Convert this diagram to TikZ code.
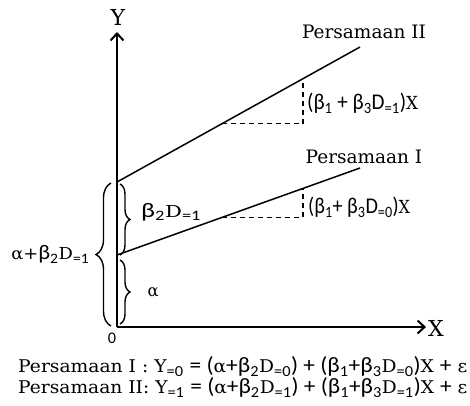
\documentclass[tikz,border=0pt]{standalone}
\usepackage{graphicx}
\usepackage{fontspec}
\setmainfont{DejaVu Serif}
\newfontfamily\cf{Carlito}[Scale=1.25]
\usetikzlibrary{decorations.pathreplacing,arrows.meta,calc}
\newcommand\s[1]{{\cf #1}}
\newcommand\sbs[1]{\textsubscript{\cf #1}}
\newcommand\fs[1]{\fontsize{#1}{#1}\selectfont}
\newcommand\fitw[2]{\resizebox{#1}{\height}{#2}}
\begin{document}
\begin{tikzpicture}[x=1pt,y=-1pt,
  axis/.style={line width=2pt,-{Straight Barb[length=7pt,width=13pt,line width=2pt]}},
  regline/.style={line width=1.5pt},
  dashline/.style={line width=1.4pt,dash pattern=on 5pt off 4pt},
  brc/.style={line width=1.4pt,decorate},
  lbl/.style={inner sep=0pt},
  eqn/.style={inner sep=0pt,anchor=west},
  axlab/.style={inner sep=0pt,font=\fs{22}},
  ptitle/.style={inner sep=0pt,font=\fs{18.5}}]
\useasboundingbox (0,0) rectangle (470,405);
% axes
\coordinate (O) at (117,327);
\coordinate (Ytop) at (117,32);
\coordinate (Xend) at (426,327);
\draw[axis] (O) -- (Ytop);
\draw[axis] (O) -- (Xend);
\node[axlab] (ylab) at (118,17) {Y};
\node[axlab] (xlab) at (436,328) {X};
\node[inner sep=0pt,font=\fs{13}] (zero) at (112,338) {\s{0}};
% regression lines
\coordinate (A2) at (117,182); \coordinate (B2) at (360,47);
\coordinate (A1) at (117,255); \coordinate (B1) at (360,168);
\draw[regline] (A2) -- (B2);
\draw[regline] (A1) -- (B1);
\node[ptitle] (t2) at (364,32) {Persamaan II};
\node[ptitle] (t1) at (364,157) {Persamaan I};
% dashed slope triangles
\coordinate (P2) at ($(A2)!0.432!(B2)$);
\coordinate (Q2) at ($(A2)!0.765!(B2)$);
\coordinate (P1) at ($(A1)!0.432!(B1)$);
\coordinate (Q1) at ($(A1)!0.765!(B1)$);
\draw[dashline] (P2) -- (P2 -| Q2) -- (Q2);
\draw[dashline] (P1) -- (P1 -| Q1) -- (Q1);
\node[lbl,anchor=west] (s2) at (307,103) {\fitw{111pt}{\fs{18}\s{(β}\sbs{1}\s{ + β}\sbs{3}\s{D}\sbs{=1}\s{)}X}};
\node[lbl,anchor=west] (s1) at (308,207) {\fitw{102pt}{\fs{18}\s{(β}\sbs{1}\s{+ β}\sbs{3}\s{D}\sbs{=0}\s{)}X}};
% braces
\draw[brc,decoration={brace,amplitude=10pt}] (120,184) -- (120,255);
\node[lbl,anchor=west] (b2) at (141,212) {\fitw{60pt}{\fs{16.5}\s{β}\sbs{2}D\sbs{=1}}};
\draw[brc,decoration={brace,amplitude=10pt}] (120,260) -- (120,324)
  node[lbl,midway,anchor=west,xshift=27pt] (al) {\fs{16.5}α};
\draw[brc,decoration={brace,amplitude=15pt}] (111,326) -- (111,183)
  node[lbl,midway,anchor=east,xshift=-21pt] (big) {\fitw{78pt}{\fs{16.5}α+\s{β}\sbs{2}D\sbs{=1}}};
% equations
\node[eqn] (e1) at (18,367) {\fitw{449pt}{\fs{17.5}Persamaan I : Y\sbs{=0} \s{= (}α\s{+β}\sbs{2}D\sbs{=0}\s{) + (β}\sbs{1}\s{+β}\sbs{3}D\sbs{=0}\s{)}X \s{+} ε}};
\node[eqn] (e2) at (18,388) {\fitw{449pt}{\fs{17.5}Persamaan II: Y\sbs{=1} \s{= (}α\s{+β}\sbs{2}D\sbs{=1}\s{) + (β}\sbs{1}\s{+β}\sbs{3}D\sbs{=1}\s{)}X \s{+} ε}};
\end{tikzpicture}
\end{document}
